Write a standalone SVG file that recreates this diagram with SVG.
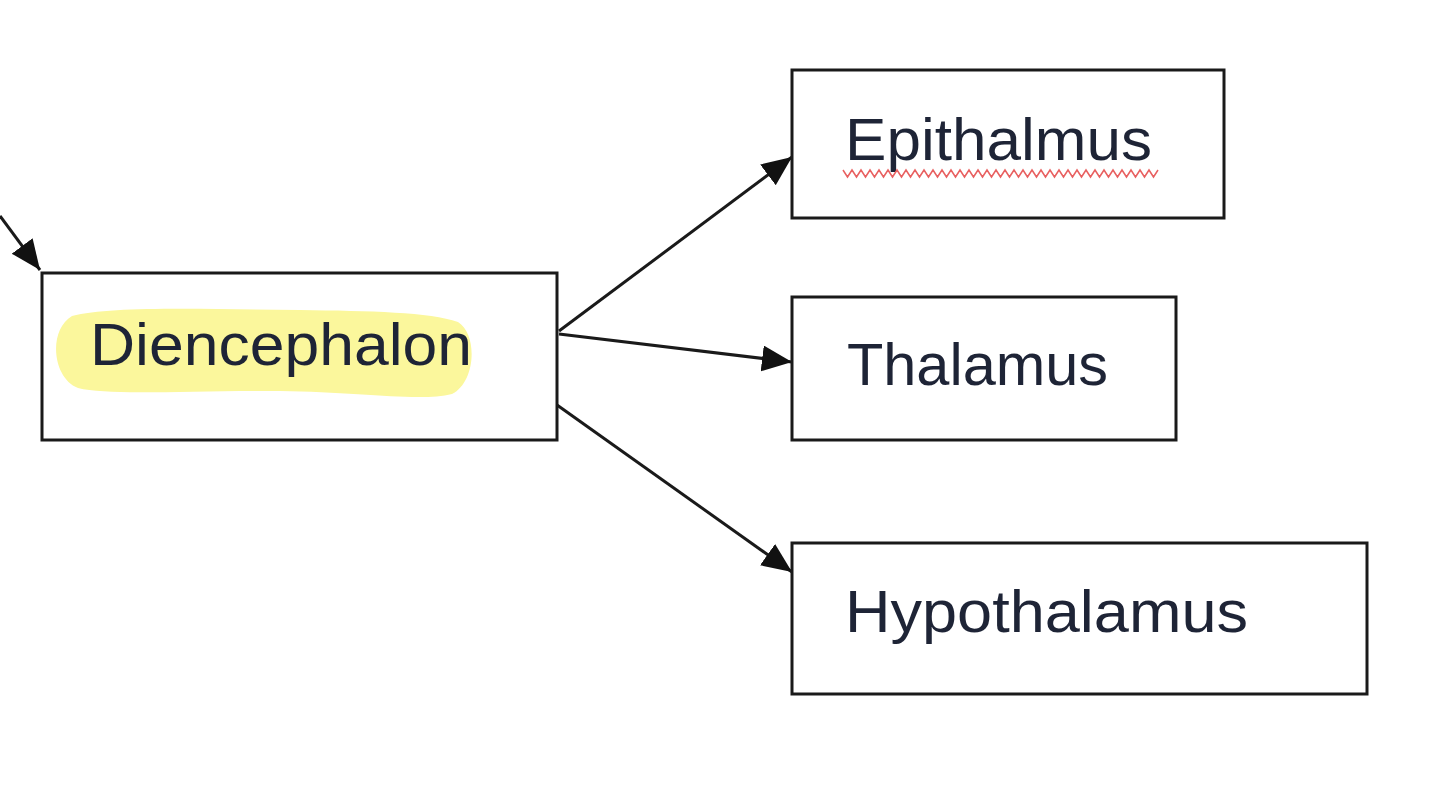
<svg xmlns="http://www.w3.org/2000/svg" width="1440" height="808" viewBox="0 0 1440 808">
<defs>
<style>
.box{fill:#fff;stroke:#1a1a1a;stroke-width:3}
.lbl{font-family:"Liberation Sans",Arial,sans-serif;font-size:60px;fill:#1e2436}
.con{stroke:#1a1a1a;stroke-width:3;fill:none;marker-end:url(#ah)}
</style>
<marker id="ah" markerUnits="userSpaceOnUse" markerWidth="32" markerHeight="28" refX="30" refY="13" orient="auto">
<path d="M0,0 L30,13 L0,26 Z" fill="#111"/>
</marker>
</defs>
<rect width="1440" height="808" fill="#fff"/>
<g id="connectors">
<line class="con" x1="0" y1="216" x2="40" y2="270"/>
<line class="con" x1="559" y1="331" x2="792" y2="157"/>
<line class="con" x1="559" y1="334" x2="792" y2="362"/>
<line class="con" x1="557" y1="405" x2="792" y2="572"/>
</g>
<g id="diencephalon">
<rect class="box" x="42" y="273" width="515" height="167"/>
<path d="M72,316 C110,306 200,309 300,310 C370,311 430,312 458,322 C478,334 476,382 452,394 C420,402 360,392 280,391 C190,390 110,396 78,388 C52,378 48,330 72,316 Z" fill="#fbf79c"/>
<text class="lbl" x="90" y="365" textLength="382" lengthAdjust="spacingAndGlyphs">Diencephalon</text>
</g>
<g id="epithalmus">
<rect class="box" x="792" y="70" width="432" height="148"/>
<text class="lbl" x="845" y="160" textLength="307" lengthAdjust="spacingAndGlyphs">Epithalmus</text>
<path d="M843,170 l4.5,7 l4.5,-7 l4.5,7 l4.5,-7 l4.5,7 l4.5,-7 l4.5,7 l4.5,-7 l4.5,7 l4.5,-7 l4.5,7 l4.5,-7 l4.5,7 l4.5,-7 l4.5,7 l4.5,-7 l4.5,7 l4.5,-7 l4.5,7 l4.5,-7 l4.5,7 l4.5,-7 l4.5,7 l4.5,-7 l4.5,7 l4.5,-7 l4.5,7 l4.5,-7 l4.5,7 l4.5,-7 l4.5,7 l4.5,-7 l4.5,7 l4.5,-7 l4.5,7 l4.5,-7 l4.5,7 l4.5,-7 l4.5,7 l4.5,-7 l4.5,7 l4.5,-7 l4.5,7 l4.5,-7 l4.5,7 l4.5,-7 l4.5,7 l4.5,-7 l4.5,7 l4.5,-7 l4.5,7 l4.5,-7 l4.5,7 l4.5,-7 l4.5,7 l4.5,-7 l4.5,7 l4.5,-7 l4.5,7 l4.5,-7 l4.5,7 l4.5,-7 l4.5,7 l4.5,-7 l4.5,7 l4.5,-7 l4.5,7 l4.5,-7 l4.5,7 l4.5,-7" fill="none" stroke="#e86060" stroke-width="1.5"/>
</g>
<g id="thalamus">
<rect class="box" x="792" y="297" width="384" height="143"/>
<text class="lbl" x="847" y="385" textLength="261" lengthAdjust="spacingAndGlyphs">Thalamus</text>
</g>
<g id="hypothalamus">
<rect class="box" x="792" y="543" width="575" height="151"/>
<text class="lbl" x="845" y="632" textLength="403" lengthAdjust="spacingAndGlyphs">Hypothalamus</text>
</g>
</svg>
